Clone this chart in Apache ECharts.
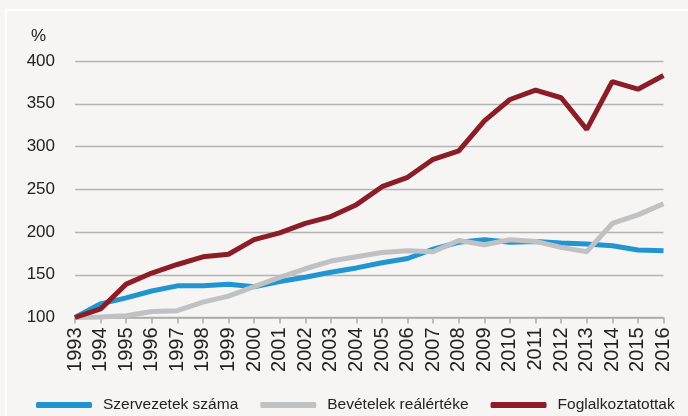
<!DOCTYPE html>
<html>
<head>
<meta charset="utf-8">
<script src="https://cdn.jsdelivr.net/npm/echarts@6/dist/echarts.min.js"></script>
<style>
html,body{margin:0;padding:0;background:#f6f5f3;}
#c{width:688px;height:416px;}
</style>
</head>
<body>
<div id="c"></div>
<script>
var years = ['1993','1994','1995','1996','1997','1998','1999','2000','2001','2002','2003','2004','2005','2006','2007','2008','2009','2010','2011','2012','2013','2014','2015','2016'];
var szervezetek = [100,116,123,131,137,137,139,136,142,147,153,158,164,169,180,188,191,188,189,187,186,184,179,178];
var bevetelek = [100,100.5,102,107,108,118,125,136,147,157,166,171,176,178,177,190,185,191,189,182,177,210,220,233];
var foglalkoztatottak = [100,110,139,152,162,171,174,191,199,210,218,232,253,264,285,295,330,355,366,357,320,376,367,383];
var yTicks = {min:100, max:400, interval:50};

var sans = '"Liberation Sans", Arial, sans-serif';
var chart = echarts.init(document.getElementById('c'));
chart.setOption({
  backgroundColor: '#f6f5f3',
  animation: false,
  graphic: [
    {type:'rect', shape:{x:6,y:10,width:720,height:440}, style:{fill:'none', stroke:'#ffffff', lineWidth:2}, silent:true},
    {type:'text', left:31, top:28, style:{text:'%', font:'17px ' + sans, fill:'#222'}}
  ],
  grid: {left:75, right:24.5, top:61, bottom:98.5},
  legend: {
    left: 31, top: 392, width: 657,
    itemWidth: 56, itemHeight: 6, itemGap: 22,
    icon: 'roundRect',
    textStyle: {fontFamily: sans, fontSize: 15.5, color:'#222', padding:[0,0,0,6]},
    data: ['Szervezetek száma','Bevételek reálértéke','Foglalkoztatottak']
  },
  xAxis: {
    type:'category', data: years, boundaryGap:false,
    axisLine:{show:true, lineStyle:{color:'#aaaaaa', width:1.5}},
    axisTick:{show:true, length:6, alignWithLabel:true, lineStyle:{color:'#aaaaaa', width:1.5}},
    axisLabel:{rotate:90, margin:10, fontFamily:sans, fontSize:20, color:'#222', interval:0}
  },
  yAxis: {
    type:'value', min:yTicks.min, max:yTicks.max, interval:yTicks.interval,
    axisLine:{show:false}, axisTick:{show:false},
    axisLabel:{margin:20, fontFamily: sans, fontSize:17, color:'#222'},
    splitLine:{lineStyle:{color:'#b5b5b5', width:1.3}}
  },
  series: [
    {name:'Szervezetek száma', type:'line', data:szervezetek, showSymbol:false, symbol:'none', lineStyle:{width:5, color:'#2095d2'}, itemStyle:{color:'#2095d2'}},
    {name:'Bevételek reálértéke', type:'line', data:bevetelek, showSymbol:false, symbol:'none', lineStyle:{width:5, color:'#c0c1c3'}, itemStyle:{color:'#c0c1c3'}},
    {name:'Foglalkoztatottak', type:'line', data:foglalkoztatottak, showSymbol:false, symbol:'none', lineStyle:{width:5, color:'#8c1d27'}, itemStyle:{color:'#8c1d27'}}
  ]
});
</script>
</body>
</html>
